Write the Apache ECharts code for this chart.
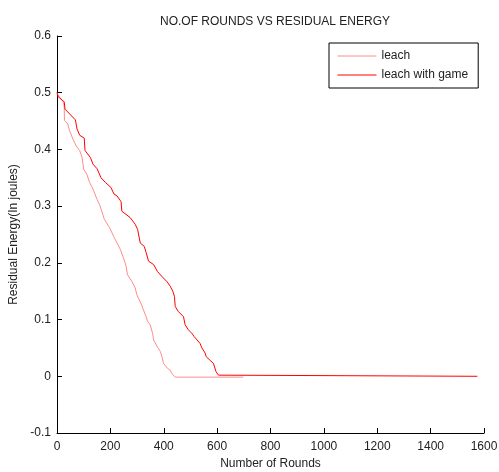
<!DOCTYPE html>
<html><head><meta charset="utf-8">
<script src="https://cdn.jsdelivr.net/npm/echarts@6/dist/echarts.min.js"></script>
<style>html,body{margin:0;padding:0;background:#fff}#c{width:499px;height:472px}</style>
</head><body><div id="c"></div>
<script>
const xTicks = [0,200,400,600,800,1000,1200,1400,1600];
const yTicks = [-0.1,0,0.1,0.2,0.3,0.4,0.5,0.6];
const leachRounds = [0,10,25,27,28,40,47,60,72,85,94,100,112,122,135,150,159,168,177,197,214,237,249,259,264,281,293,299,314,324,334,339,349,358,362,376,387,393,399,414,424,430,443,698];
const leachEnergy = [0.5,0.492,0.483,0.474,0.451,0.445,0.433,0.418,0.406,0.398,0.386,0.365,0.356,0.342,0.330,0.312,0.303,0.291,0.277,0.262,0.245,0.224,0.209,0.194,0.179,0.167,0.156,0.144,0.129,0.117,0.105,0.097,0.091,0.076,0.064,0.052,0.044,0.035,0.023,0.014,0.011,0.005,-0.0015,-0.0015];
const gameRounds = [0,4,27,30,69,75,85,102,105,125,135,150,165,181,202,214,225,240,243,274,293,302,312,327,334,343,362,376,393,412,424,434,440,443,455,474,480,492,505,514,536,543,555,559,571,586,592,596,605,611,1575];
const gameEnergy = [0.5,0.493,0.484,0.471,0.452,0.436,0.425,0.420,0.398,0.386,0.374,0.366,0.350,0.342,0.333,0.321,0.318,0.308,0.291,0.280,0.268,0.259,0.235,0.229,0.218,0.203,0.197,0.185,0.176,0.167,0.159,0.150,0.141,0.123,0.114,0.105,0.091,0.082,0.076,0.070,0.058,0.050,0.041,0.035,0.029,0.023,0.020,0.008,0.002,0,0];
const seriesNames = ['leach','leach with game'];

const pair = (xs, ys) => xs.map((x,i)=>[x,ys[i]]);
const font = 'Liberation Sans, Arial, sans-serif';
const chart = echarts.init(document.getElementById('c'), null, {renderer:'canvas'});
chart.setOption({
  animation:false,
  backgroundColor:'#fff',
  title:{text:'NO.OF ROUNDS VS RESIDUAL ENERGY', left:270, top:11, textAlign:'center',
    textStyle:{fontFamily:font, fontSize:12, fontWeight:'normal', color:'#222'}},
  grid:{left:57, right:15, top:36, bottom:39, outerBoundsMode:'none', containLabel:false},
  legend:{orient:'vertical', left:329, top:43, padding:[7,10,7,8], itemGap:7,
    itemWidth:39, itemHeight:14, borderColor:'#000', borderWidth:1, backgroundColor:'#fff',
    itemStyle:{opacity:0}, lineStyle:{width:1},
    textStyle:{fontFamily:font, fontSize:12, color:'#222'}, data:seriesNames},
  xAxis:{type:'value', min:0, max:1600, interval:200,
    name:'Number of Rounds', nameLocation:'middle', nameGap:24,
    nameTextStyle:{fontFamily:font, fontSize:12, color:'#222'},
    axisLine:{onZero:false, lineStyle:{color:'#000'}},
    axisTick:{inside:true, length:5, lineStyle:{color:'#000'}},
    axisLabel:{fontFamily:font, fontSize:12, color:'#222', margin:8,
      formatter:v=>xTicks.includes(v)?String(v):''},
    splitLine:{show:false}},
  yAxis:{type:'value', min:-0.1, max:0.6, interval:0.1,
    name:'Residual Energy(In joules)', nameLocation:'middle', nameGap:34,
    nameTextStyle:{fontFamily:font, fontSize:12, color:'#222'},
    axisLine:{show:true, onZero:false, lineStyle:{color:'#000'}},
    axisTick:{show:true, inside:true, length:5, lineStyle:{color:'#000'}},
    axisLabel:{fontFamily:font, fontSize:12, color:'#222', margin:6,
      formatter:v=>{const r=Math.round(v*10)/10; return yTicks.includes(r)?String(r):'';}},
    splitLine:{show:false}},
  series:[
    {name:seriesNames[0], type:'line', symbol:'none', data:pair(leachRounds,leachEnergy),
      lineStyle:{color:'#ff8c8c', width:1}, itemStyle:{color:'#ff8c8c'}, z:2},
    {name:seriesNames[1], type:'line', symbol:'none', data:pair(gameRounds,gameEnergy),
      lineStyle:{color:'#ff0000', width:1}, itemStyle:{color:'#ff0000'}, z:3}
  ]
});
</script></body></html>
